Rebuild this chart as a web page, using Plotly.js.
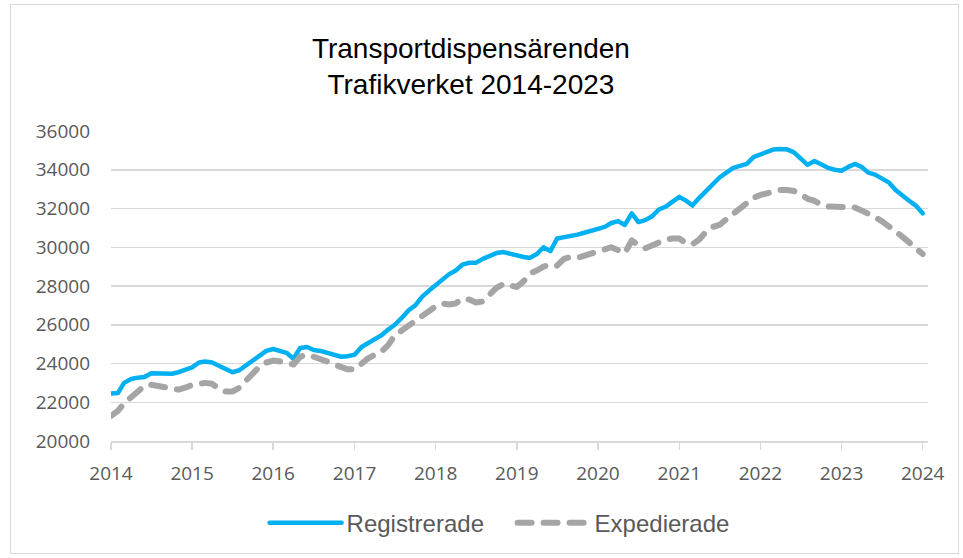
<!DOCTYPE html>
<html>
<head>
<meta charset="utf-8">
<script src="https://cdn.plot.ly/plotly-3.0.1.min.js"></script>
<style>
  html, body { margin: 0; padding: 0; background: #fff; }
  #wrap { position: relative; width: 963px; height: 558px; }
  #chart { width: 963px; height: 558px; }
  #frame { position: absolute; left: 10px; top: 4px; width: 947px; height: 548px; border: 1px solid #d9d9d9; pointer-events: none; }
  .scatterlayer .js-line, .legendlines path { stroke-linecap: round; stroke-linejoin: round; }
</style>
</head>
<body>
<div id="wrap">
  <div id="chart"></div>
  <div id="frame"></div>
</div>
<script>
const startYear = 2014;
const monthCount = 121;

const registrerade = [
  22450,22480,23000,23200,23270,23300,23500,23500,23480,23470,23550,23650,
  23800,24050,24100,24050,23900,23700,23550,23650,23900,24200,24450,24650,
  24750,24650,24550,24250,24800,24850,24700,24650,24550,24400,24350,24380,
  24450,24850,25050,25250,25450,25750,26000,26350,26750,27000,27450,27750,
  28050,28350,28600,28800,29100,29200,29200,29400,29550,29700,29750,29650,
  29550,29500,29450,29650,30000,29800,30450,30500,30550,30650,30750,30850,
  30900,31050,31250,31350,31150,31750,31300,31400,31600,31950,32100,32350,
  32600,32400,32150,32550,32900,33250,33600,33850,34100,34200,34300,34650,
  34800,34950,35050,35070,35050,34900,34600,34250,34450,34250,34100,34000,
  33950,34150,34300,34150,33850,33750,33550,33350,32950,32650,32400,32150,
  31750
];

const expedierade = [
  21300,21550,21950,22250,22500,22850,22900,22850,22750,22700,22650,22750,
  22900,22950,23000,22950,22700,22550,22550,22750,23150,23550,23850,24050,
  24150,24100,24000,23950,24350,24450,24350,24250,24100,23950,23800,23700,
  23700,24000,24250,24450,24600,24950,25450,25700,25950,26200,26500,26750,
  26950,27100,27050,27100,27350,27300,27150,27200,27600,27900,28100,28050,
  27950,28250,28650,28800,29000,29100,29050,29400,29500,29450,29550,29650,
  29750,29900,30000,29850,29700,30350,30100,29950,30100,30250,30400,30450,
  30450,30200,30150,30400,30800,31050,31150,31450,31750,32000,32250,32550,
  32700,32800,32900,32950,32950,32900,32750,32500,32400,32200,32100,32100,
  32080,32080,32050,31900,31750,31550,31350,31100,30850,30550,30250,29950,
  29650
];

const seriesNames = ['Registrerade', 'Expedierade'];
const titleLines = ['Transportdispensärenden', 'Trafikverket 2014-2023'];

const dates = [];
for (let i = 0; i < monthCount; i++) {
  const y = startYear + Math.floor(i / 12);
  const m = (i % 12) + 1;
  dates.push(y + '-' + String(m).padStart(2, '0') + '-01');
}

const traces = [
  {
    x: dates, y: registrerade, name: seriesNames[0], type: 'scatter', mode: 'lines',
    line: { color: '#00b0f0', width: 4.5 }
  },
  {
    x: dates, y: expedierade, name: seriesNames[1], type: 'scatter', mode: 'lines',
    line: { color: '#a5a5a5', width: 6, dash: '14px,12px' }
  }
];

const layout = {
  width: 963, height: 558,
  margin: { l: 111, r: 35, t: 131, b: 117 },
  paper_bgcolor: '#ffffff', plot_bgcolor: '#ffffff',
  showlegend: true,
  title: {
    text: titleLines.join('<br>'),
    font: { family: 'Liberation Sans, Arial, sans-serif', size: 28, color: '#000000' },
    xref: 'container', x: 0.489, xanchor: 'center',
    yref: 'container', y: 1 - 58 / 558, yanchor: 'top'
  },
  xaxis: {
    type: 'date',
    range: ['2014-01-01', '2024-01-25'],
    tick0: '2014-01-01', dtick: 'M12', tickformat: '%Y',
    showgrid: false, zeroline: false,
    showline: true, linecolor: '#d9d9d9', linewidth: 1.5,
    ticks: 'outside', ticklen: 7, tickwidth: 1.5, tickcolor: '#d9d9d9',
    ticklabelstandoff: 8,
    tickfont: { family: 'Open Sans, sans-serif', size: 19, color: '#595959' },
    fixedrange: true
  },
  yaxis: {
    range: [20000, 36000], dtick: 2000, tick0: 20000, tickformat: 'd',
    showgrid: true, gridcolor: '#d9d9d9', gridwidth: 1.5,
    zeroline: false, showline: false, ticks: '',
    ticklabelstandoff: 20,
    tickfont: { family: 'Open Sans, sans-serif', size: 19, color: '#595959' },
    fixedrange: true
  },
  legend: {
    orientation: 'h',
    x: 0.188, xanchor: 'left',
    y: -0.265, yanchor: 'middle',
    font: { family: 'Liberation Sans, Arial, sans-serif', size: 24, color: '#595959' },
    itemwidth: 72,
    entrywidth: 161, entrywidthmode: 'pixels',
    bgcolor: 'rgba(0,0,0,0)'
  }
};

Plotly.newPlot('chart', traces, layout, { displayModeBar: false, staticPlot: true });
</script>
</body>
</html>
